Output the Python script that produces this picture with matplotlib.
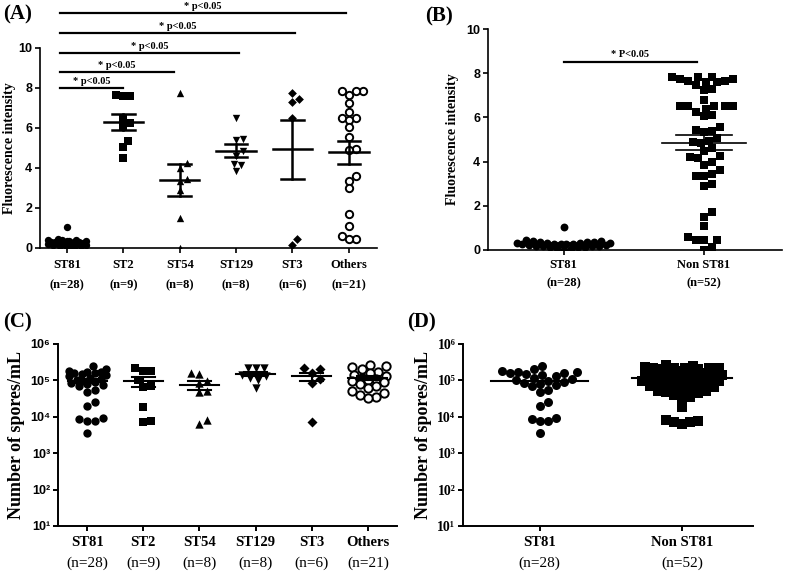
import numpy as np
import matplotlib
matplotlib.use('Agg')
import matplotlib.pyplot as plt
from matplotlib.transforms import blended_transform_factory

W, H = 787, 575
SERIF = ['Liberation Serif', 'DejaVu Serif']
SANS = ['Liberation Sans', 'DejaVu Sans']

# ---- data ----
groups = ['ST81', 'ST2', 'ST54', 'ST129', 'ST3', 'Others']
group_n = ['(n=28)', '(n=9)', '(n=8)', '(n=8)', '(n=6)', '(n=21)']
markers = ['o', 's', '^', 'v', 'D', 'o']

# fluorescence intensity per group
fl_st81 = [1.05, 0.45, 0.42, 0.4, 0.38, 0.35, 0.35, 0.33, 0.3, 0.3, 0.3, 0.28, 0.28, 0.25,
           0.25, 0.25, 0.22, 0.22, 0.2, 0.2, 0.2, 0.18, 0.15, 0.15, 0.12, 0.1, 0.05, 0.02]
fl_st2 = [7.65, 7.6, 7.6, 6.5, 6.25, 6.1, 5.35, 5.05, 4.5]
fl_st54 = [7.75, 4.25, 4.0, 3.45, 3.35, 2.9, 1.5, 0.0]
fl_st129 = [6.5, 5.45, 5.4, 4.85, 4.6, 4.2, 4.15, 3.85]
fl_st3 = [7.75, 7.45, 7.3, 6.5, 0.45, 0.15]
fl_others = [7.85, 7.85, 7.85, 7.65, 7.25, 6.8, 6.5, 6.5, 6.4, 6.05, 5.55, 4.95, 4.9,
             3.6, 3.35, 3.0, 1.7, 1.1, 0.6, 0.45, 0.45]

# spores/mL per group
sp_st81 = [250000, 200000, 185000, 175000, 165000, 160000, 155000, 150000, 140000, 130000,
           120000, 110000, 100000, 95000, 90000, 85000, 80000, 75000, 68000, 55000, 47000,
           26000, 20000, 9200, 8800, 7800, 7600, 3500]
sp_st2 = [215000, 180000, 180000, 100000, 70000, 65000, 19000, 7500, 7000]
sp_st54 = [155000, 150000, 95000, 85000, 50000, 48000, 8000, 6500]
sp_st129 = [225000, 220000, 215000, 140000, 130000, 120000, 100000, 62000]
sp_st3 = [215000, 205000, 160000, 110000, 85000, 7000]
sp_others = [260000, 250000, 240000, 200000, 175000, 155000, 145000, 130000, 120000, 110000,
             100000, 95000, 90000, 80000, 70000, 60000, 52000, 45000, 40000, 36000, 33000]

fl_groups = [fl_st81, fl_st2, fl_st54, fl_st129, fl_st3, fl_others]
sp_groups = [sp_st81, sp_st2, sp_st54, sp_st129, sp_st3, sp_others]

two_groups = ['ST81', 'Non ST81']
two_n = ['(n=28)', '(n=52)']
fl_non = sum(fl_groups[1:], [])
sp_non = sum(sp_groups[1:], [])

sig_ends = [1, 1.9, 3.05, 4.05, 4.95]
sig_levels = [8.0, 8.8, 9.75, 10.75, 11.75]

fig = plt.figure(figsize=(W / 100, H / 100), dpi=100)


def box(l, t, r, b):
    return [l / W, 1 - b / H, (r - l) / W, (b - t) / H]


def fy(p):
    return 1 - p / H


def swarm(ax, xc, vals, sep, max_w):
    # beeswarm in pixel space, limited to +-max_w pixels (overlap allowed beyond)
    pts = ax.transData.transform(np.column_stack([np.full(len(vals), xc), vals]))
    ys = pts[:, 1]
    x0 = pts[0, 0]
    order = np.argsort(ys)
    placed = []
    xs = np.zeros(len(vals))
    step = sep / 3.0
    cands = [0.0]
    k = 1
    while k * step <= max_w:
        cands += [k * step, -k * step]
        k += 1
    for i in order:
        best, best_d = 0.0, -1
        for c in cands:
            d = min([np.hypot(c - px, ys[i] - py) for px, py in placed] or [1e9])
            if d >= sep:
                best = c
                break
            if d > best_d + 0.5:
                best, best_d = c, d
        placed.append((best, ys[i]))
        xs[i] = x0 + best
    back = ax.transData.inverted().transform(np.column_stack([xs, ys]))
    return back[:, 0]


def style_axes(ax, lw=1.2):
    for s in ['top', 'right']:
        ax.spines[s].set_visible(False)
    for s in ['left', 'bottom']:
        ax.spines[s].set_linewidth(lw)
    ax.tick_params(direction='out', length=3.5, width=lw, pad=2)


def xlabels(ax, names, ns, y1, y2, size1, size2, w2):
    tr = blended_transform_factory(ax.transData, fig.transFigure)
    ax.set_xticklabels([])
    for i, (a, b) in enumerate(zip(names, ns)):
        ax.text(i, fy(y1), a, transform=tr, ha='center', va='center',
                family=SERIF, weight='bold', size=size1)
        ax.text(i, fy(y2), b, transform=tr, ha='center', va='center',
                family=SERIF, weight=w2, size=size2)


def mean_sem(ax, x, vals, hw, cw, lw, sem=True):
    v = np.array(vals, dtype=float)
    m = v.mean()
    s = v.std(ddof=1) / np.sqrt(len(v))
    ax.plot([x - hw, x + hw], [m, m], color='black', lw=lw, zorder=5)
    if sem:
        ax.plot([x, x], [m - s, m + s], color='black', lw=lw, zorder=5)
        ax.plot([x - cw, x + cw], [m + s, m + s], color='black', lw=lw, zorder=5)
        ax.plot([x - cw, x + cw], [m - s, m - s], color='black', lw=lw, zorder=5)


def draw_points(ax, i, vals, mk, sep, max_w, ms, open_=False):
    xs = swarm(ax, i, vals, sep, max_w)
    if open_:
        ax.scatter(xs, vals, marker=mk, s=ms, facecolor='white', edgecolor='black',
                   linewidth=1.4, zorder=3)
    else:
        ax.scatter(xs, vals, marker=mk, s=ms, color='black', linewidth=0, zorder=3)


def tick_font(ax, fam, size):
    for t in ax.get_yticklabels():
        t.set_family(fam)
        t.set_weight('bold')
        t.set_size(size)


# ---- (A) ----
axA = fig.add_axes(box(40, 48, 377, 248))
axA.set_xlim(-0.48, 5.5)
axA.set_ylim(0, 10)
style_axes(axA)
axA.set_xticks(range(6))
axA.set_yticks(range(0, 11, 2))
tick_font(axA, SANS, 9)
for i, vals in enumerate(fl_groups):
    sizes = 28 if markers[i] != 'D' else 20
    draw_points(axA, i, vals, markers[i], 7, 20, sizes, open_=(groups[i] == 'Others'))
    mean_sem(axA, i, vals, 0.35, 0.2, 1.8)
xlabels(axA, groups, group_n, 265, 285, 9, 9, 'bold')
axA.set_ylabel('Fluorescence intensity', family=SERIF, weight='bold', size=10, labelpad=2)
for end, lev in zip(sig_ends, sig_levels):
    axA.plot([-0.12, end], [lev, lev], color='black', lw=1.6, clip_on=False)
    axA.text((end - 0.12) / 2, lev + 0.12, '* p<0.05', ha='center', va='bottom',
             family=SERIF, weight='bold', size=7.5, clip_on=False)
fig.text(3 / W, fy(14), '(A)', family=SERIF, weight='bold', size=15, va='center')

# ---- (B) ----
axB = fig.add_axes(box(488, 29, 782, 250))
axB.set_xlim(-0.54, 1.56)
axB.set_ylim(0, 10)
style_axes(axB)
axB.set_xticks(range(2))
axB.set_yticks(range(0, 11, 2))
tick_font(axB, SANS, 9)
draw_points(axB, 0, fl_st81, 'o', 7, 48, 32)
draw_points(axB, 1, fl_non, 's', 8, 32, 36)
mean_sem(axB, 0, fl_st81, 0.25, 0.15, 1.2)
mean_sem(axB, 1, fl_non, 0.3, 0.2, 1.2)
xlabels(axB, two_groups, two_n, 265, 283, 9, 9, 'bold')
axB.set_ylabel('Fluorescence intensity', family=SERIF, weight='bold', size=10, labelpad=5)
axB.plot([0, 0.95], [8.5, 8.5], color='black', lw=1.6)
axB.text(0.475, 8.65, '* P<0.05', ha='center', va='bottom', family=SERIF, weight='bold',
         size=7.5)
fig.text(425 / W, fy(16), '(B)', family=SERIF, weight='bold', size=15, va='center')

# ---- (C) ----
log_ticks = [10, 100, 1000, 10000, 100000, 1000000]
log_labels = ['10\u00b9', '10\u00b2', '10\u00b3', '10\u2074', '10\u2075', '10\u2076']

axC = fig.add_axes(box(58, 344, 397, 526))
axC.set_yscale('log')
axC.set_xlim(-0.52, 5.52)
axC.set_ylim(10, 1e6)
style_axes(axC, 1.4)
axC.minorticks_off()
axC.set_xticks(range(6))
axC.set_yticks(log_ticks, log_labels)
tick_font(axC, SANS, 9)
for i, vals in enumerate(sp_groups):
    sizes = 36 if markers[i] != 'D' else 26
    draw_points(axC, i, vals, markers[i], 8, 20, sizes, open_=(groups[i] == 'Others'))
    mean_sem(axC, i, vals, 0.35, 0.2, 1.5)
xlabels(axC, groups, group_n, 542, 563, 10.5, 11, 'normal')
axC.set_ylabel('Number of spores/mL', family=SERIF, weight='bold', size=13, labelpad=4)
fig.text(3 / W, fy(322), '(C)', family=SERIF, weight='bold', size=15, va='center')

# ---- (D) ----
axD = fig.add_axes(box(463, 344, 753, 526))
axD.set_yscale('log')
axD.set_xlim(-0.54, 1.5)
axD.set_ylim(10, 1e6)
style_axes(axD, 1.4)
axD.minorticks_off()
axD.set_xticks(range(2))
axD.set_yticks(log_ticks, log_labels)
tick_font(axD, SERIF, 10)
draw_points(axD, 0, sp_st81, 'o', 8, 42, 42)
draw_points(axD, 1, sp_non, 's', 8, 42, 46)
mean_sem(axD, 0, sp_st81, 0.34, 0.2, 1.5, sem=False)
mean_sem(axD, 1, sp_non, 0.35, 0.2, 1.5, sem=False)
xlabels(axD, two_groups, two_n, 542, 563, 10.5, 11, 'normal')
axD.set_ylabel('Number of spores/mL', family=SERIF, weight='bold', size=13, labelpad=4)
fig.text(407 / W, fy(322), '(D)', family=SERIF, weight='bold', size=15, va='center')

fig.savefig('out.png', dpi=100)
